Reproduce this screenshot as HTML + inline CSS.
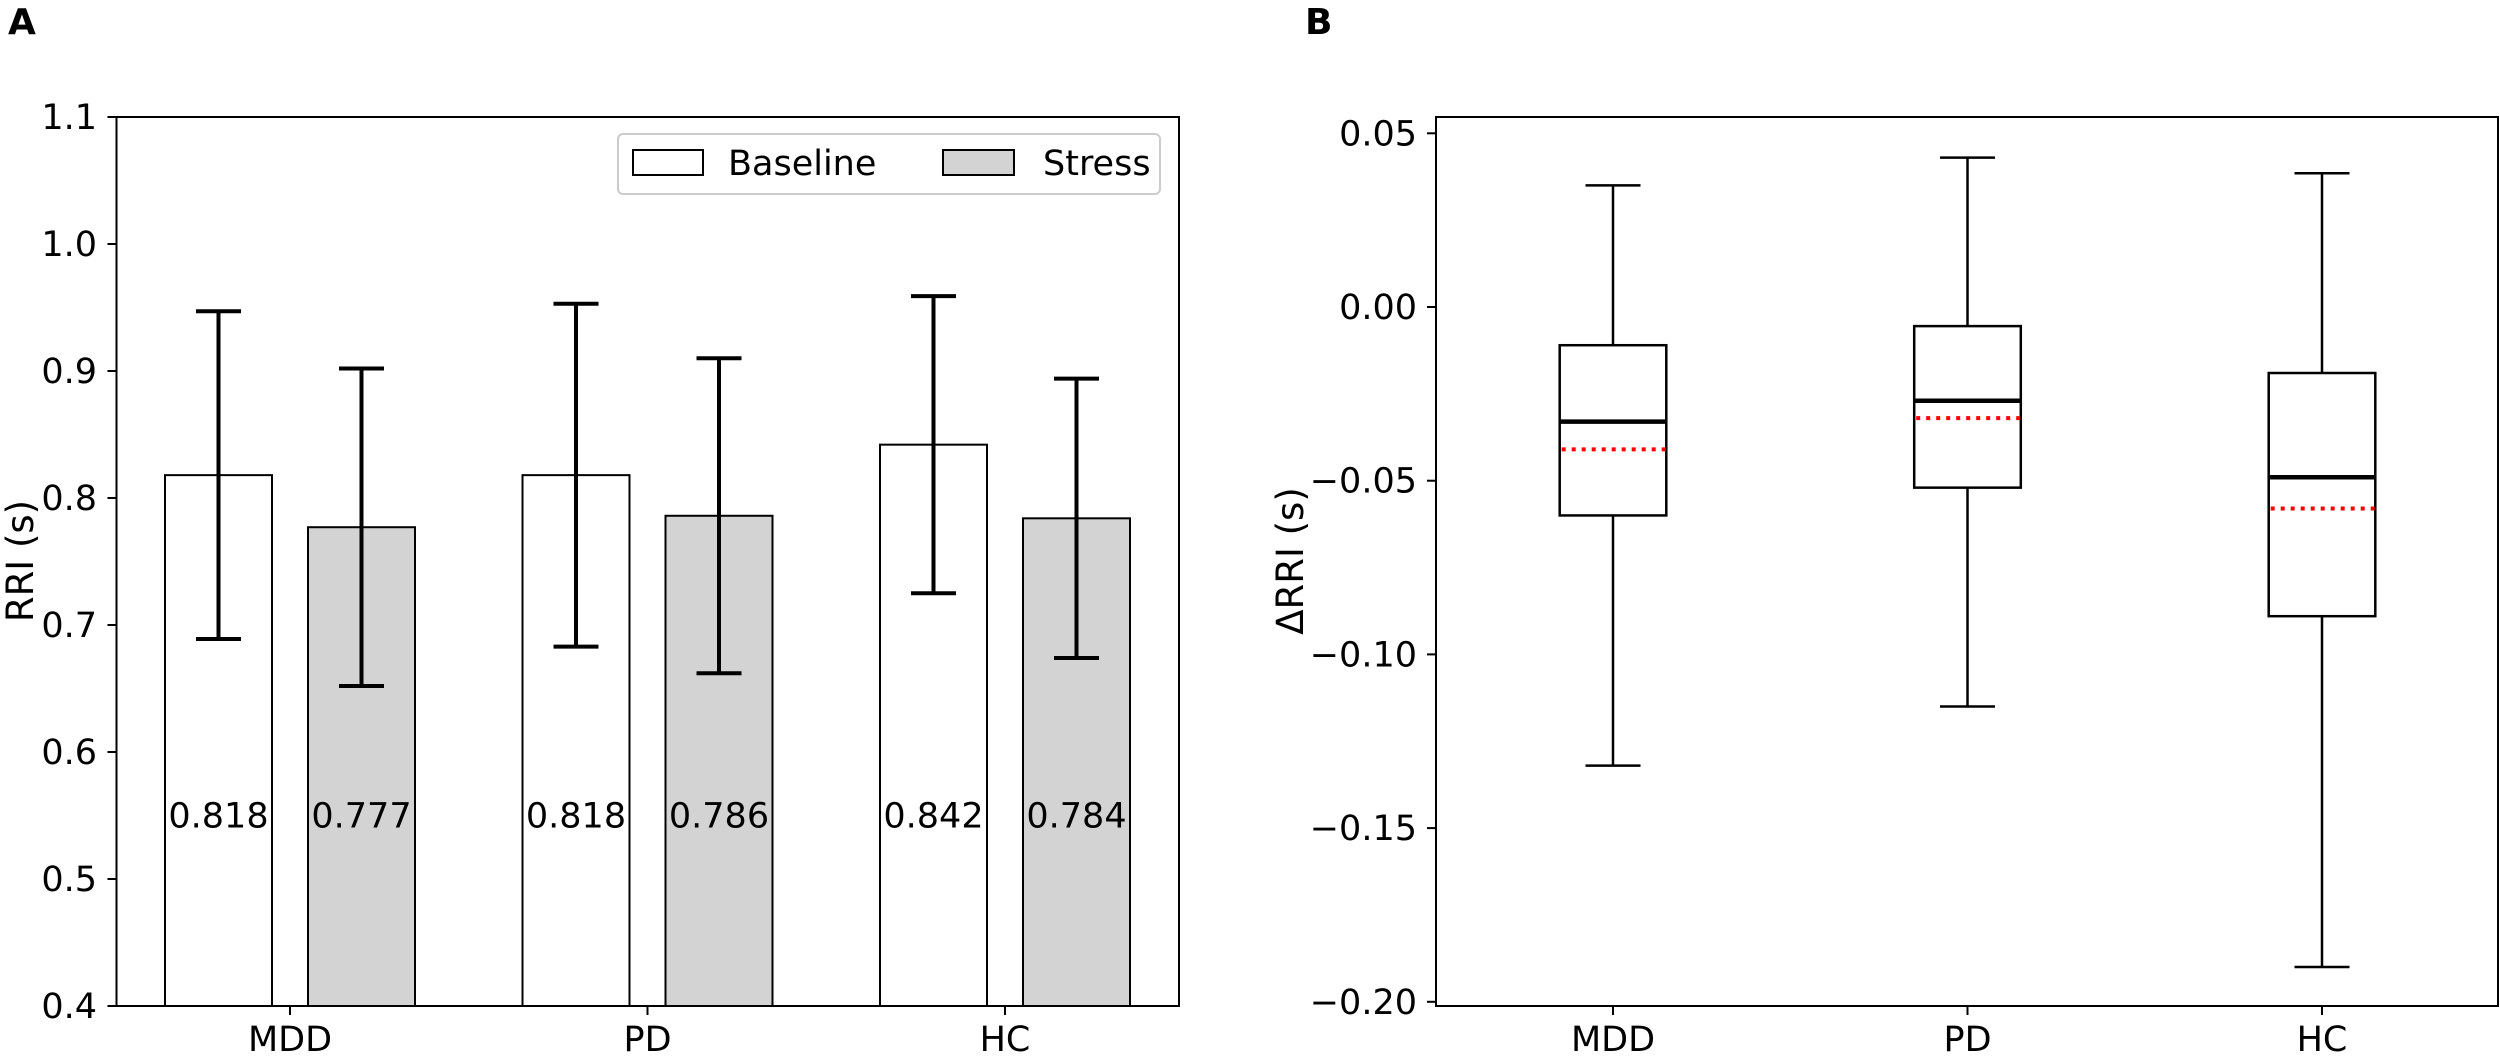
<!DOCTYPE html>
<html><head><meta charset="utf-8">
<style>
body{margin:0;background:#fff;}
svg text{font-family:"DejaVu Sans","Liberation Sans",sans-serif;fill:#000;}
</style></head>
<body>
<svg id="chart" width="2500" height="1052" viewBox="0 0 2500 1052" xmlns="http://www.w3.org/2000/svg">
<text x="8" y="34" font-size="36" font-weight="bold">A</text>
<text x="1305" y="34" font-size="36" font-weight="bold">B</text>
<g id="pa"></g>
<g id="pb"></g>
</svg>
<script>
const categories = ["MDD","PD","HC"];
const baselineMeans = [0.818, 0.818, 0.842];
const stressMeans = [0.777, 0.786, 0.784];
const baselineErr = [0.129, 0.135, 0.117];
const stressErr = [0.125, 0.124, 0.110];
const aTicks = [0.4,0.5,0.6,0.7,0.8,0.9,1.0,1.1];
const aTickLabels = ["0.4","0.5","0.6","0.7","0.8","0.9","1.0","1.1"];

const whiskerHigh = [0.035, 0.043, 0.0385];
const q3 = [-0.011, -0.0055, -0.019];
const medians = [-0.033, -0.027, -0.049];
const means = [-0.041, -0.032, -0.058];
const q1 = [-0.060, -0.052, -0.089];
const whiskerLow = [-0.132, -0.115, -0.190];
const bTicks = [0.05, 0.00, -0.05, -0.10, -0.15, -0.20];
const bTickLabels = ["0.05","0.00","\u22120.05","\u22120.10","\u22120.15","\u22120.20"];

const FS = 35;
const NS = "http://www.w3.org/2000/svg";
function mk(parent, tag, attrs, text){
  const e = document.createElementNS(NS, tag);
  for (const k in attrs) e.setAttribute(k, attrs[k]);
  if (text !== undefined) e.textContent = text;
  parent.appendChild(e);
  return e;
}

// Panel A
const pa = document.getElementById('pa');
const aL=116.5, aR=1179, aT=117, aB=1006;
const ax = i => 290 + 357.5*i;
const ay = v => aB - (v-0.4)/(0.7)*(aB-aT);
const bw = 107, off = 71.5;
categories.forEach((c,i)=>{
  [[baselineMeans,baselineErr,-off,'#ffffff','baseline'],[stressMeans,stressErr,off,'#d3d3d3','stress']].forEach(([m,er,o,fill,nm])=>{
    const cx = ax(i)+o, y = ay(m[i]);
    const r = mk(pa,'rect',{x:cx-bw/2,y:y,width:bw,height:aB-y,fill:fill,stroke:'#000','stroke-width':2});
    
    
    const g = mk(pa,'g',{stroke:'#000','stroke-width':4});
    
    
    const yt = ay(m[i]+er[i]), yb = ay(m[i]-er[i]);
    mk(g,'line',{x1:cx,x2:cx,y1:yt,y2:yb});
    mk(g,'line',{x1:cx-22.5,x2:cx+22.5,y1:yt,y2:yt});
    mk(g,'line',{x1:cx-22.5,x2:cx+22.5,y1:yb,y2:yb});
    const t = mk(pa,'text',{x:cx,y:ay(0.55)+12,'font-size':FS,'text-anchor':'middle'}, m[i].toFixed(3));
    
    
  });
  const tk = mk(pa,'line',{x1:ax(i),x2:ax(i),y1:aB,y2:aB+9,stroke:'#000','stroke-width':2});
  
  
  const tl = mk(pa,'text',{x:ax(i),y:1051,'font-size':FS,'text-anchor':'middle'}, c);
  
  
});
aTicks.forEach((v,k)=>{
  const y = ay(v);
  const tk = mk(pa,'line',{x1:aL-9,x2:aL,y1:y,y2:y,stroke:'#000','stroke-width':2});
  
  
  const tl = mk(pa,'text',{x:97,y:y+12,'font-size':FS,'text-anchor':'end'}, aTickLabels[k]);
  
  
});
const frA = mk(pa,'rect',{x:aL,y:aT,width:aR-aL,height:aB-aT,fill:'none',stroke:'#000','stroke-width':2});


const ylA = mk(pa,'text',{x:0,y:0,'font-size':37,'text-anchor':'middle',transform:'translate(33,561) rotate(-90)'},'RRI (s)');


// legend
const lg = mk(pa,'g',{});


mk(lg,'rect',{x:618,y:134,width:542,height:60,rx:5,fill:'#fff',stroke:'#cccccc','stroke-width':2});
mk(lg,'rect',{x:633,y:150,width:70,height:25,fill:'#fff',stroke:'#000','stroke-width':2});
const lt1 = mk(lg,'text',{x:728,y:175,'font-size':FS},'Baseline');


mk(lg,'rect',{x:943,y:150,width:71,height:25,fill:'#d3d3d3',stroke:'#000','stroke-width':2});
const lt2 = mk(lg,'text',{x:1043,y:175,'font-size':FS},'Stress');



// Panel B
const pb = document.getElementById('pb');
const bL=1436, bR=2498, bT=117, bB=1006;
const bx = i => 1613 + 354.5*i;
const by = v => 307 - v*3474;
const bh = 53.3, ch = 27.5;
categories.forEach((c,i)=>{
  const cx = bx(i);
  const g = mk(pb,'g',{stroke:'#000','stroke-width':2.5,fill:'none'});
  
  
  mk(g,'line',{x1:cx,x2:cx,y1:by(whiskerHigh[i]),y2:by(q3[i])});
  mk(g,'line',{x1:cx,x2:cx,y1:by(q1[i]),y2:by(whiskerLow[i])});
  mk(g,'line',{x1:cx-ch,x2:cx+ch,y1:by(whiskerHigh[i]),y2:by(whiskerHigh[i])});
  mk(g,'line',{x1:cx-ch,x2:cx+ch,y1:by(whiskerLow[i]),y2:by(whiskerLow[i])});
  mk(g,'rect',{x:cx-bh,y:by(q3[i]),width:2*bh,height:by(q1[i])-by(q3[i])});
  const md = mk(pb,'line',{x1:cx-bh,x2:cx+bh,y1:by(medians[i]),y2:by(medians[i]),stroke:'#000','stroke-width':4.5});
  
  
  const mn = mk(pb,'line',{x1:cx-bh+2,x2:cx+bh,y1:by(means[i]),y2:by(means[i]),stroke:'#ff0000','stroke-width':4,'stroke-dasharray':'4 6'});
  
  
  const tk = mk(pb,'line',{x1:cx,x2:cx,y1:bB,y2:bB+9,stroke:'#000','stroke-width':2});
  
  
  const tl = mk(pb,'text',{x:cx,y:1051,'font-size':FS,'text-anchor':'middle'}, c);
  
  
});
bTicks.forEach((v,k)=>{
  const y = by(v);
  const tk = mk(pb,'line',{x1:bL-9,x2:bL,y1:y,y2:y,stroke:'#000','stroke-width':2});
  
  
  const tl = mk(pb,'text',{x:1417,y:y+12,'font-size':FS,'text-anchor':'end'}, bTickLabels[k]);
  
  
});
const frB = mk(pb,'rect',{x:bL,y:bT,width:bR-bL,height:bB-bT,fill:'none',stroke:'#000','stroke-width':2});


const ylB = mk(pb,'text',{x:0,y:0,'font-size':37,'text-anchor':'middle',transform:'translate(1303,561) rotate(-90)'},'\u0394RRI (s)');


</script>
</body></html>
